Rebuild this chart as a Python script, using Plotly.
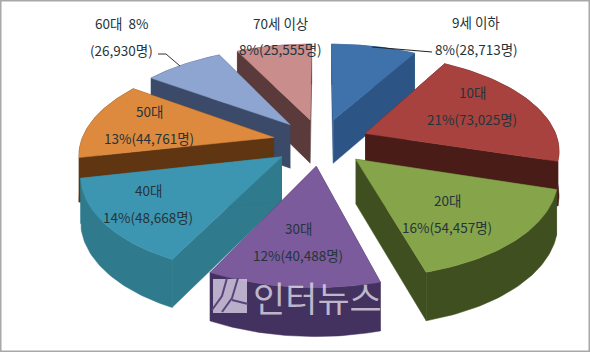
import numpy as np
import plotly.graph_objects as go

categories = ["9세 이하", "10대", "20대", "30대", "40대", "50대", "60대", "70세 이상"]
counts = [28713, 73025, 54457, 40488, 48668, 44761, 26930, 25555]
shares = [8, 21, 16, 12, 14, 13, 8, 8]
top_colors = ["#3f71ab", "#a8423f", "#86a44a", "#7b5b9b", "#3d96b1", "#dd8a3e", "#8ea5d1", "#c98d8c"]
wall_colors = ["#2c5585", "#4a1c18", "#3f4f1f", "#43315f", "#2f7a8c", "#5f3512", "#3a4a68", "#5a3a3a"]
draw_order = [7, 6, 0, 5, 1, 4, 2, 3]

CX, CY, RX, RY, K, EXPL, DEPTH = 321, 142, 193, 94, 0.155, 0.25, 44


def project(X, V, h=0.0):
    s = 1 / (1 - K * np.asarray(V))
    return CX + RX * np.asarray(X) * s, CY + RY * np.asarray(V) * s + h * np.sqrt(s)


fig = go.Figure()
fractions = np.array(counts) / sum(counts)
edges = np.concatenate([[0], np.cumsum(fractions)]) * 2 * np.pi


def poly(xs, ys, color):
    fig.add_trace(go.Scatter(x=list(xs), y=list(ys), mode="lines", fill="toself", fillcolor=color,
                             line=dict(color=color, width=0.5), hoverinfo="skip", showlegend=False))


for i in draw_order:
    t = np.linspace(edges[i], edges[i + 1], 50)
    mid = (edges[i] + edges[i + 1]) / 2
    ax, av = EXPL * np.sin(mid), -EXPL * np.cos(mid)
    X, V = ax + np.sin(t), av - np.cos(t)
    x0, y0 = project(ax, av)
    x0b, y0b = project(ax, av, DEPTH)
    xa, ya = project(X, V)
    xb, yb = project(X, V, DEPTH)
    poly(np.r_[x0, xa[0], xb[0], x0b], np.r_[y0, ya[0], yb[0], y0b], wall_colors[i])
    poly(np.r_[x0, xa[-1], xb[-1], x0b], np.r_[y0, ya[-1], yb[-1], y0b], wall_colors[i])
    poly(np.r_[xa, xb[::-1]], np.r_[ya, yb[::-1]], wall_colors[i])
    poly(np.r_[x0, xa, x0], np.r_[y0, ya, y0], top_colors[i])

FONT = dict(family="Noto Sans CJK KR, Noto Sans", size=13.5, color="#24343a")
label_pos = [(476, 22, 49), (472, 92, 119), (447, 200, 227), (298, 228, 255),
             (148, 190, 217), (149, 111, 138), (121, 23, 50), (280, 23, 49)]
annotations = []
for i, (lx, y1, y2) in enumerate(label_pos):
    c = f"{counts[i]:,}명"
    if i == 6:
        l1, l2 = f"{categories[i]}  {shares[i]}%", f"({c})"
    else:
        l1, l2 = categories[i], f"{shares[i]}%({c})"
    for y, txt in ((y1, l1), (y2, l2)):
        annotations.append(dict(x=lx, y=y, text=txt, showarrow=False, xref="x", yref="y",
                                font=FONT, xanchor="center", yanchor="middle"))
annotations.append(dict(x=317, y=296, text="인터뉴스", showarrow=False, xref="x", yref="y",
                        font=dict(family="Noto Sans CJK KR", size=35, color="rgba(225,220,232,0.78)"),
                        xanchor="center", yanchor="middle"))

shapes = [
    dict(type="rect", xref="paper", yref="paper", x0=0, x1=1, y0=0, y1=1,
         line=dict(color="#a8a8a8", width=3), fillcolor="rgba(0,0,0,0)"),
    dict(type="path", path="M158,54 L166,54 L180,66", xref="x", yref="y", line=dict(color="#333333", width=1)),
    dict(type="path", path="M372,47 L432,52", xref="x", yref="y", line=dict(color="#222222", width=1)),
    dict(type="rect", x0=213, x1=247, y0=279, y1=313, xref="x", yref="y",
         fillcolor="rgba(200,190,215,0.9)", line=dict(width=0)),
    dict(type="path", path="M227,278 L222,296 L212,310", xref="x", yref="y", line=dict(color="#5a4478", width=2)),
    dict(type="path", path="M238,278 L232,298 L222,312", xref="x", yref="y", line=dict(color="#5a4478", width=2)),
    dict(type="path", path="M232,300 L248,304", xref="x", yref="y", line=dict(color="#5a4478", width=2)),
]

fig.update_layout(
    width=590, height=352, margin=dict(l=0, r=0, t=0, b=0),
    paper_bgcolor="white", plot_bgcolor="white", showlegend=False,
    xaxis=dict(range=[0, 590], visible=False, fixedrange=True),
    yaxis=dict(range=[352, 0], visible=False, fixedrange=True),
    annotations=annotations, shapes=shapes,
)
fig.write_html("out.html", config={"displayModeBar": False},
               post_script="document.body.style.margin='0';document.body.style.overflow='hidden';")
